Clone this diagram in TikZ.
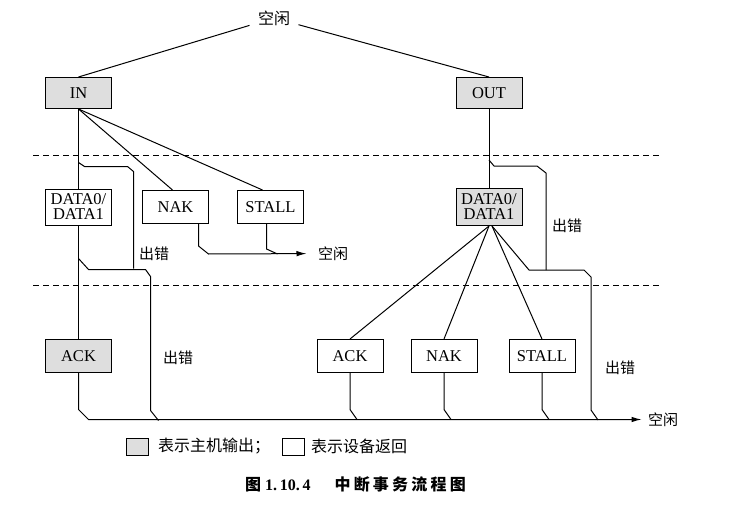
\documentclass[tikz,border=0pt]{standalone}
\usepackage{fontspec}
\setmainfont{Liberation Serif}
\newfontfamily\cjk{Noto Sans CJK SC}
\newfontfamily\cjkcap{Noto Sans CJK SC}[LetterSpace=20]
\usetikzlibrary{arrows.meta,calc,positioning}
\tikzstyle{line} = [draw, -{Latex[length=10pt,width=5.5pt]}]
\tikzstyle{host} = [draw, rectangle, fill=black!13, text centered, minimum width=66pt, minimum height=33pt, inner sep=1pt]
\tikzstyle{dev} = [draw, rectangle, text centered, minimum width=66pt, minimum height=33pt, inner sep=1pt]
\tikzstyle{lbl} = [font=\cjk\fontsize{15}{15}\selectfont, inner sep=2pt]
\tikzstyle{sep} = [draw, dash pattern=on 6pt off 4pt]

\begin{document}
\begin{tikzpicture}[x=1pt, y=1pt, line width=1pt, node distance=114pt, font=\fontsize{16.5}{15}\selectfont]
        \useasboundingbox (0,0) rectangle (748,-506);
        % phases
        \path[sep] (33,-155) -- (660,-155);
        \path[sep] (33,-285) -- (660,-285);
        \node[lbl, font=\cjk\fontsize{16}{16}\selectfont, inner sep=8pt] (idle) at (274,-18) {空闲};
        \node[host, minimum height=31pt] (in) at (78.5,-93) {IN};
        \node[host, minimum height=31pt] (out) at (489,-93) {OUT};
        \node[dev, below of=in, minimum height=36pt, align=center] (datain) {DATA0/\\DATA1};
        \node[dev, right of=datain, node distance=97pt] (nakin) {NAK};
        \node[dev, right of=nakin, node distance=95pt] (stallin) {STALL};
        \node[host, below of=datain, node distance=149pt] (ackin) {ACK};
        \node[host, below of=out, minimum height=37pt, align=center] (dataout) {DATA0/\\DATA1};
        \node[dev] (ackout) at (350,-356) {ACK};
        \node[dev, right of=ackout, node distance=94pt] (nakout) {NAK};
        \node[dev, right of=nakout, node distance=98pt] (stallout) {STALL};
        \node[lbl, inner sep=11pt] (idlemid) at (333,-253.5) {空闲};
        \node[lbl, inner sep=6pt] (idleend) at (663,-419.5) {空闲};
        \node[lbl] (errin) at (154,-254) {出错};
        \node[lbl] (errack) at (178,-358) {出错};
        \node[lbl] (errout) at (567,-226) {出错};
        \node[lbl] (errhs) at (620,-368) {出错};
        \coordinate (kink) at (0,-409.5);
        % token phase
        \path[draw] (idle) -- (in.north);
        \path[draw] (idle) -- (out.north);
        \path[draw] (in.south) -- (datain.north);
        \path[draw] (in.south) -- ([xshift=-3pt]nakin.north);
        \path[draw] (in.south) -- ([xshift=-8pt]stallin.north);
        \path[draw] (out.south) -- (dataout.north);
        % data phase
        \path[draw] ([yshift=26pt]datain.north) -- ++(6,-4) -- ++(43,0) -- ++(6,-5) -- ++(0,-97);
        \path[draw] ([yshift=-33pt]datain.south) -- ++(10,-11) -- ++(57,0) -- ++(5,-7) -- ++(0,-134) -- ++(8,-10);
        \path[line] ([xshift=23pt]nakin.south) -- ++(0,-22) -- ++(10,-8) -- (idlemid);
        \path[draw] ([xshift=-4pt]stallin.south) -- ++(0,-25) -- ++(11,-5);
        \path[draw] (datain.south) -- (ackin.north);
        \path[draw] ([yshift=28pt]dataout.north) -- ++(5,-6) -- ++(43,0) -- ++(9,-7) -- ++(0,-97);
        \path[draw] ([xshift=3pt]dataout.south) -- ++(37,-44) -- ++(55,0) -- ++(7,-7) -- ++(0,-133) -- ++(7,-10);
        \path[draw] (dataout.south) -- (ackout.north);
        \path[draw] (dataout.south) -- (nakout.north);
        \path[draw] ([xshift=3pt]dataout.south) -- (stallout.north);
        % handshake phase
        \path[line] (ackin.south) -- (ackin.south |- kink) -- ++(10,-10) -- (idleend);
        \path[draw] (ackout.south) -- (ackout.south |- kink) -- ++(7,-10);
        \path[draw] (nakout.south) -- (nakout.south |- kink) -- ++(7,-10);
        \path[draw] (stallout.south) -- (stallout.south |- kink) -- ++(7,-10);
        % legend
        \node[host, minimum width=22pt, minimum height=17pt] (keyhost) at (137,-446.5) {};
        \node[lbl, font=\cjk\fontsize{16}{16}\selectfont, right=7pt of keyhost] (keyhosttext) {表示主机输出；};
        \node[dev, minimum width=22pt, minimum height=17pt, right=9pt of keyhosttext] (keydev) {};
        \node[lbl, font=\cjk\fontsize{16}{16}\selectfont, right=4pt of keydev] (keydevtext) {表示设备返回};
        \node[font=\fontsize{16}{16}\selectfont\bfseries] (caption) at (355.5,-484.5) {{\cjk 图} 1.\,10.\,4\hspace{24pt}{\cjkcap 中断事务流程图}};
    \end{tikzpicture}
\end{document}
